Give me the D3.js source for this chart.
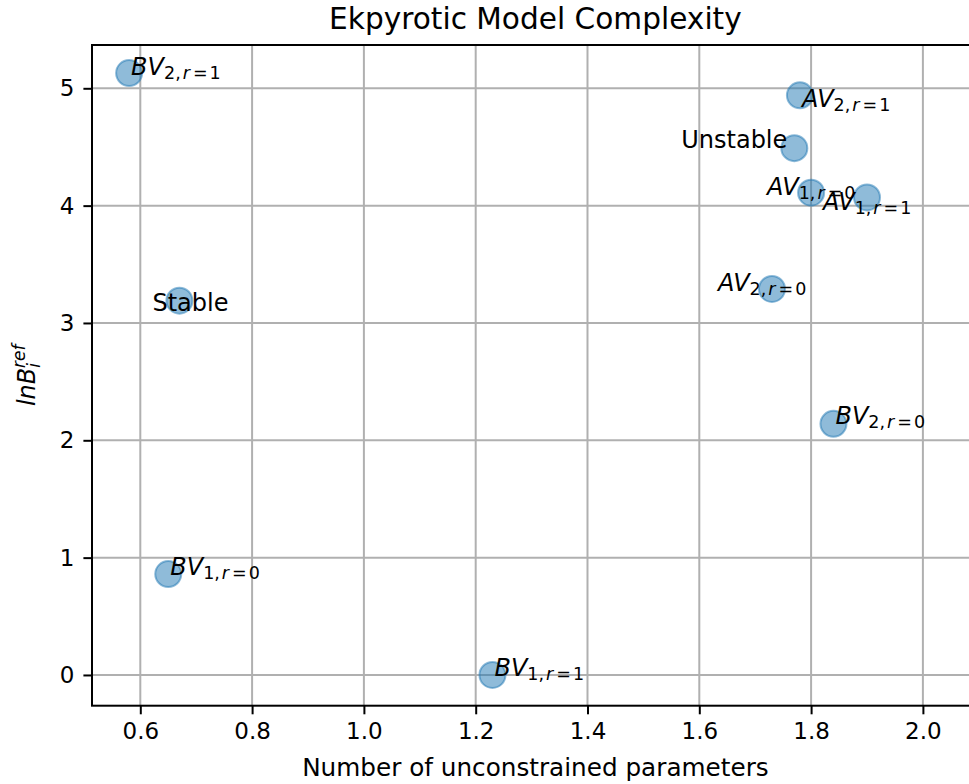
<!DOCTYPE html>
<html>
<head>
<meta charset="utf-8">
<script src="https://cdn.jsdelivr.net/npm/d3@7"></script>
<style>
  body { margin: 0; background: #fff; }
  text { font-family: "DejaVu Sans", sans-serif; fill: #000; }
</style>
</head>
<body>
<svg id="chart" width="969" height="784"></svg>
<script>
// Model names, split into the italic letters and the subscript parts
const models = ["BV2r1", "AV2r1", "Unstable", "AV1r0", "AV1r1", "AV2r0", "Stable", "BV2r0", "BV1r0", "BV1r1"];
const baseNames = ["BV", "AV", null, "AV", "AV", "AV", null, "BV", "BV", "BV"];
const subIndex = ["2", "2", null, "1", "1", "2", null, "2", "1", "1"];
const subR = ["1", "1", null, "0", "1", "0", null, "0", "0", "1"];
// Number of unconstrained parameters (x) and ln B_i^ref (y)
const paramCounts = [0.58, 1.78, 1.77, 1.80, 1.90, 1.73, 0.67, 1.84, 0.65, 1.23];
const lnBref = [5.13, 4.94, 4.49, 4.11, 4.07, 3.29, 3.19, 2.14, 0.86, 0.00];
const xTicks = [0.6, 0.8, 1.0, 1.2, 1.4, 1.6, 1.8, 2.0];
const yTicks = [0, 1, 2, 3, 4, 5];

// label placement relative to the point, in pixels (layout only)
const labelDx = [2, 2, -7, -44, -44, -54, -27, 2, 2, 2];
const labelDy = [2, 12, 0, 2, 13, 2, 10, 0, 1, 1];
const labelAnchor = ["start", "start", "end", "start", "start", "start", "start", "start", "start", "start"];

const svg = d3.select("#chart");
const plotLeft = 92, plotTop = 45, plotBottom = 705.7;

const x = d3.scaleLinear().domain([0.5136, 2.1]).range([plotLeft, plotLeft + (2.1 - 0.5136) * 559]);
const y = d3.scaleLinear().domain([-0.262, 5.369]).range([plotBottom, plotTop]);
const plotRight = x.range()[1];
const midX = (plotLeft + plotRight) / 2;

// grid lines
svg.append("g").selectAll("line").data(xTicks).join("line")
    .attr("x1", d => x(d)).attr("x2", d => x(d))
    .attr("y1", plotTop).attr("y2", plotBottom)
    .attr("stroke", "#b0b0b0").attr("stroke-width", 2);
svg.append("g").selectAll("line").data(yTicks).join("line")
    .attr("x1", plotLeft).attr("x2", plotRight)
    .attr("y1", d => y(d)).attr("y2", d => y(d))
    .attr("stroke", "#b0b0b0").attr("stroke-width", 2);

// axes
const xAxis = svg.append("g")
    .attr("transform", `translate(0,${plotBottom})`)
    .call(d3.axisBottom(x).tickValues(xTicks).tickFormat(d3.format(".1f")).tickSizeOuter(0).tickSize(8.6).tickPadding(8));
const yAxis = svg.append("g")
    .attr("transform", `translate(${plotLeft},0)`)
    .call(d3.axisLeft(y).tickValues(yTicks).tickFormat(d3.format("d")).tickSizeOuter(0).tickSize(8.6).tickPadding(9));
[xAxis, yAxis].forEach(a => {
    a.select(".domain").remove();
    a.selectAll(".tick line").attr("stroke", "#000").attr("stroke-width", 2);
    a.selectAll(".tick text").attr("font-size", 23).attr("font-family", "DejaVu Sans").attr("fill", "#000");
});

// frame (spines)
svg.append("rect")
    .attr("x", plotLeft).attr("y", plotTop)
    .attr("width", plotRight - plotLeft).attr("height", plotBottom - plotTop)
    .attr("fill", "none").attr("stroke", "#000").attr("stroke-width", 2);

// points
const idx = d3.range(models.length);
svg.append("g").selectAll("circle").data(idx).join("circle")
    .attr("cx", i => x(paramCounts[i]))
    .attr("cy", i => y(lnBref[i]))
    .attr("r", 13)
    .attr("fill", "#1f77b4").attr("fill-opacity", 0.5)
    .attr("stroke", "#1f77b4").attr("stroke-opacity", 0.5).attr("stroke-width", 2);

// labels (mathtext style: italic letters, upright digits in the subscript)
const subSize = 17.5;
const labels = svg.append("g").selectAll("text").data(idx).join("text")
    .attr("x", i => x(paramCounts[i]) + labelDx[i])
    .attr("y", i => y(lnBref[i]) + labelDy[i])
    .attr("text-anchor", i => labelAnchor[i])
    .attr("font-size", 24);
labels.each(function(i) {
    const t = d3.select(this);
    if (baseNames[i] === null) { t.text(models[i]); return; }
    t.append("tspan").attr("font-style", "italic").text(baseNames[i]);
    t.append("tspan").attr("font-size", subSize).attr("dy", 4).text(subIndex[i] + ",");
    t.append("tspan").attr("font-size", subSize).attr("font-style", "italic").attr("dx", 2).text("r");
    t.append("tspan").attr("font-size", subSize).attr("dx", 3).text("=");
    t.append("tspan").attr("font-size", subSize).attr("dx", 2).text(subR[i]);
});

// title and axis labels
svg.append("text").attr("x", midX).attr("y", 29)
    .attr("text-anchor", "middle").attr("font-size", 29.6).text("Ekpyrotic Model Complexity");
svg.append("text").attr("x", midX).attr("y", 776)
    .attr("text-anchor", "middle").attr("font-size", 24.7).text("Number of unconstrained parameters");

const yl = svg.append("text")
    .attr("transform", `translate(35,${(plotTop + plotBottom) / 2}) rotate(-90)`)
    .attr("text-anchor", "middle").attr("font-size", 24).attr("font-style", "italic");
yl.append("tspan").text("lnB");
yl.append("tspan").attr("font-size", 17).attr("dy", 5).text("i");
yl.append("tspan").attr("font-size", 17).attr("dx", -5).attr("dy", -15).text("ref");
</script>
</body>
</html>
